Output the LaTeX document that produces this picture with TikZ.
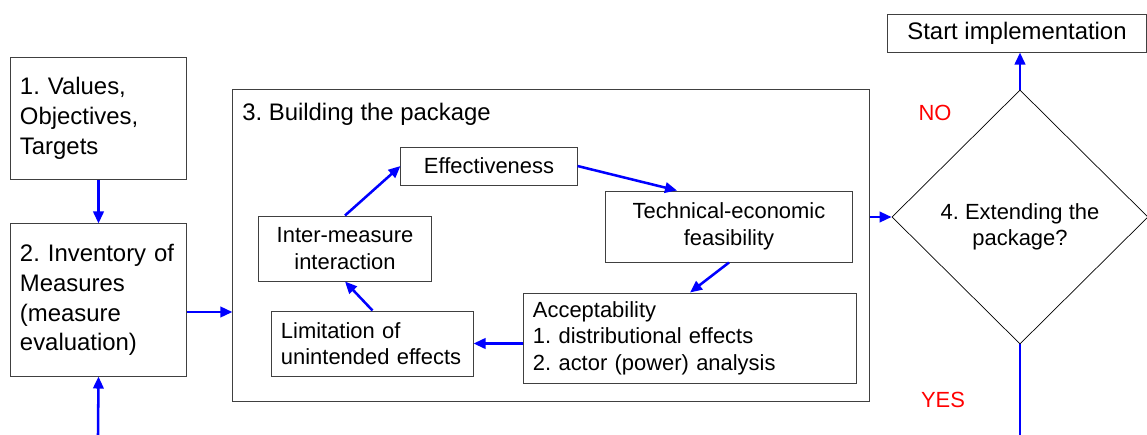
\documentclass[tikz,border=0pt]{standalone}
\usepackage{fontspec}
\setmainfont{Liberation Sans}
\usepackage{tikz}
\usetikzlibrary{arrows.meta, positioning, shapes.geometric}

\newcommand{\bigtxt}{\fontsize{17}{21.2}\selectfont}
\newcommand{\smtxt}{\fontsize{15.6}{18.8}\selectfont}
\frenchspacing

\begin{document}
\begin{tikzpicture}[
    x=0.025cm, y=-0.025cm,
    outer/.style={draw=black!75, line width=0.7pt, inner xsep=0.225cm, inner ysep=0pt,
        font=\bigtxt, align=left},
    inner/.style={draw=black!75, line width=0.7pt, inner sep=0pt, font=\smtxt, align=center},
    listbox/.style={inner, inner xsep=0.225cm, align=left},
    decide/.style={diamond, draw=black, line width=0.5pt, inner sep=0pt, aspect=1,
        minimum width=6.4cm, minimum height=6.35cm},
    answer/.style={text=red, font=\smtxt},
    arrow/.style={-{Triangle[length=3mm, width=2.6mm]}, line width=1.8pt, draw=blue}
]
\useasboundingbox (0,0) rectangle (1147,435);

% Left column
\node[outer, text width=3.925cm, minimum height=3.025cm] (values) at (98.5,118.5)
    {1. Values,\\Objectives,\\Targets};
\node[outer, text width=3.925cm, minimum height=3.8cm] (inventory) at (98.5,300)
    {2. Inventory of\\Measures\\(measure\\evaluation)};

% Package frame
\node[draw=black!75, line width=0.7pt, minimum width=15.9cm, minimum height=7.775cm,
    inner sep=0pt] (building) at (551,245.5) {};
\node[font=\bigtxt, anchor=base west, inner sep=0pt] (buildtitle) at (242,120)
    {3. Building the package};

% Inner cycle
\node[inner, minimum width=4.4cm, minimum height=0.95cm] (effect) at (489,166) {Effectiveness};
\node[inner, minimum width=6.15cm, minimum height=1.775cm] (tech) at (729,226.5)
    {Technical-economic\\feasibility};
\node[listbox, text width=7.85cm, minimum height=2.25cm] (accept) at (690,338)
    {Acceptability\\1. distributional effects\\2. actor (power) analysis};
\node[listbox, text width=4.575cm, minimum height=1.625cm] (limit) at (372.5,343.5)
    {Limitation of\\unintended effects};
\node[inner, minimum width=4.3cm, minimum height=1.625cm] (inter) at (345,248.5)
    {Inter-measure\\interaction};

% Decision
\node[decide] (decision) at (1020,217) {};
\node[font=\smtxt, align=center] (decisiontxt) at ([yshift=-0.25cm]decision.center)
    {4. Extending the\\package?};
\node[draw=black!75, line width=0.7pt, font=\bigtxt, minimum width=6.45cm,
    minimum height=0.95cm, inner sep=0pt] (start) at (1017,33) {Start implementation};
\node[answer] (no) at (935,113) {NO};
\node[answer] (yes) at (943,400) {YES};

% Loop ends below
\coordinate (loopin) at (98,435);
\coordinate (loopout) at (1020,435);

% Main flow
\draw[arrow] (values.south) -- (inventory.north);
\draw[arrow] (loopin) -- (inventory.south);
\draw[arrow] ([yshift=-0.3cm]inventory.east) -- ([yshift=-0.3cm]inventory.east -| building.west);
\draw[arrow] (building.east |- decision.west) -- (decision.west);
\draw[arrow] (decision.north) -- (decision.north |- start.south);
\draw[line width=1.8pt, blue] (decision.south) -- (loopout);

% Cycle
\draw[arrow] (inter.north) -- (effect.west);
\draw[arrow] (effect.east) -- ([xshift=-1.3cm]tech.north);
\draw[arrow] (tech.south) -- (accept.north);
\draw[arrow] (accept.west |- limit.east) -- (limit.east);
\draw[arrow] (limit.north) -- (inter.south);

\end{tikzpicture}
\end{document}
